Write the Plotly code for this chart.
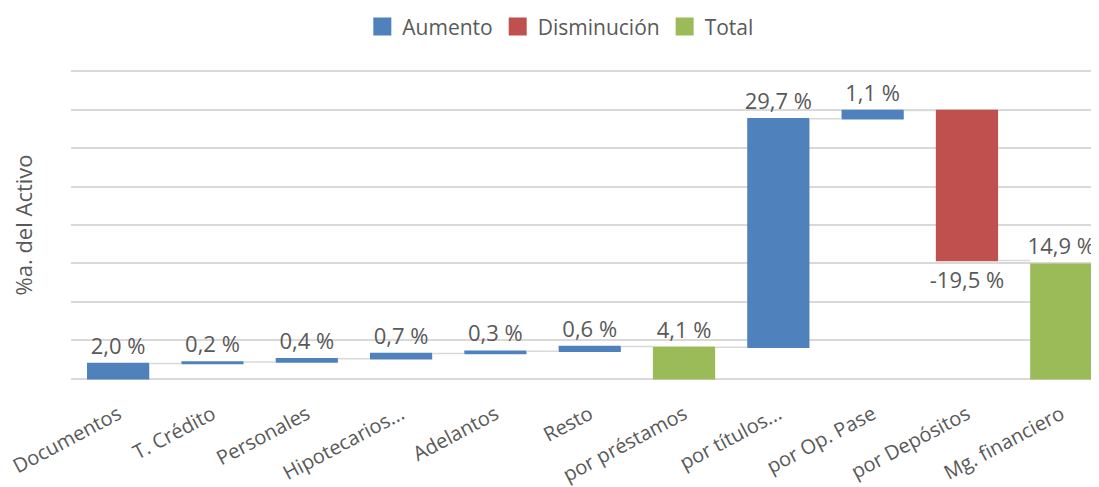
import plotly.graph_objects as go

categories = ["Documentos", "T. Crédito", "Personales", "Hipotecarios...", "Adelantos",
              "Resto", "por préstamos", "por títulos...", "por Op. Pase", "por Depósitos",
              "Mg. financiero"]
values = [2.0, 0.2, 0.4, 0.7, 0.3, 0.6, 4.1, 29.7, 1.1, -19.5, 14.9]
measures = ["relative", "relative", "relative", "relative", "relative", "relative",
            "absolute", "relative", "relative", "relative", "absolute"]
legend_names = ["Aumento", "Disminución", "Total"]

BLUE = "#4F81BD"
RED = "#C0504D"
GREEN = "#9BBB59"
GREY_TXT = "#595959"
GRID = "#D9D9D9"
FONT = "Open Sans"

labels = [f"{v:.1f} %".replace(".", ",") for v in values]

fig = go.Figure()
fig.add_trace(go.Waterfall(
    x=categories, y=values, measure=measures,
    text=labels, textinfo="text", textposition="outside", constraintext="none",
    textfont=dict(family=FONT, size=22, color=GREY_TXT),
    increasing=dict(marker=dict(color=BLUE)),
    decreasing=dict(marker=dict(color=RED)),
    totals=dict(marker=dict(color=GREEN)),
    connector=dict(mode="between", line=dict(color=GRID, width=1.5)),
    width=0.66, cliponaxis=False, showlegend=False, hoverinfo="skip",
))
for name, col in zip(legend_names, [BLUE, RED, GREEN]):
    fig.add_trace(go.Scatter(
        x=[categories[0]], y=[None], mode="markers", name=name,
        marker=dict(symbol="square", size=16, color=col, line=dict(color=col, width=2)),
    ))

# page body has an 8px margin: figure is 8px smaller and margins reduced by 8
fig.update_layout(
    width=1091, height=479,
    margin=dict(l=63, r=0, t=62, b=107, autoexpand=False),
    paper_bgcolor="white", plot_bgcolor="white",
    font=dict(family=FONT, color=GREY_TXT),
    showlegend=True,
    legend=dict(orientation="h", x=0.476, xanchor="center", y=1.205, yanchor="top",
                font=dict(family=FONT, size=21, color=GREY_TXT), itemclick=False),
    xaxis=dict(range=[-0.5, 10.4], tickangle=-28, showgrid=False, showline=False,
               zeroline=False, ticks="outside", ticklen=14, tickcolor="rgba(0,0,0,0)",
               automargin=False,
               tickfont=dict(family=FONT, size=20, color=GREY_TXT)),
    yaxis=dict(range=[-0.15, 40.15], tick0=0, dtick=5, showticklabels=False, showgrid=True,
               gridcolor=GRID, gridwidth=1.5, zeroline=False, showline=False,
               automargin=False,
               title=dict(text="%a. del Activo", standoff=36,
                          font=dict(family=FONT, size=22, color=GREY_TXT))),
)
fig.write_html("out.html")
